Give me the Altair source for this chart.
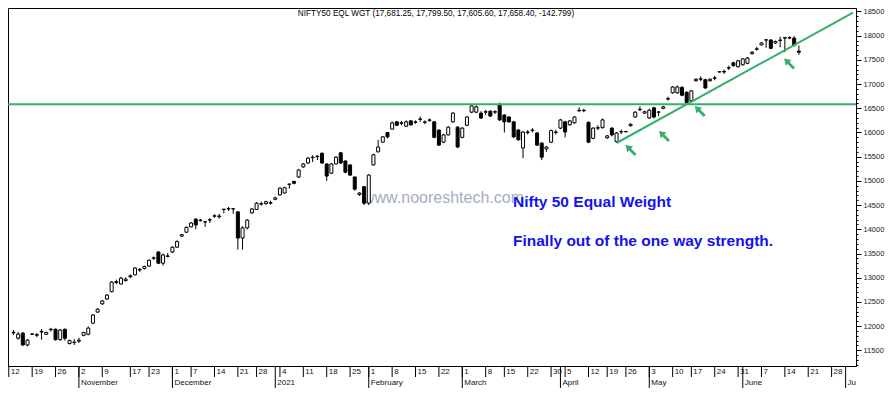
import altair as alt
import pandas as pd

# ---------------- data (trading-day index: 12 Oct 2020 = 0, 17 Jun 2021 = 169) ----------------
open_ = [11870, 11750, 11855, 11610, 11830, 11810, 11880, 11830, 11925, 11935,
         11720, 11935, 11640, 11660, 11690, 11810, 11830, 12060, 12290, 12460,
         12560, 12710, 12900, 12870, 12940, 13020, 13060, 13160, 13190, 13240,
         13400, 13530, 13300, 13440, 13530, 13630, 13860, 13940, 14050, 14210,
         14180, 14150, 14190, 14270, 14260, 14410, 14420, 14420, 14360, 13820,
         14030, 14340, 14410, 14520, 14530, 14540, 14620, 14710, 14750, 14930,
         14990, 15080, 15290, 15370, 15480, 15500, 15570, 15350, 15160, 15350,
         15580, 15410, 15330, 15080, 14720, 14880, 14540, 15330, 15600, 15800,
         16000, 16070, 16220, 16190, 16130, 16240, 16210, 16270, 16210, 16250,
         16220, 16050, 15800, 15950, 16220, 16110, 15900, 16150, 16420, 16420,
         16400, 16420, 16440, 16420, 16570, 16360, 16320, 16220, 16050, 15680,
         16000, 16040, 15990, 15780, 15660, 15800, 16000, 16090, 16220, 16160,
         16200, 16450, 16450, 16210, 15880, 16090, 16100, 15890, 16090, 15810,
         16010, 16015, 16140, 16320, 16470, 16400, 16300, 16510, 16420, 16500,
         16690, 16820, 16820, 16930, 16830, 16660, 17070, 17100, 17090, 17070,
         17120, 17250, 17250, 17330, 17440, 17360, 17400, 17430, 17630, 17720,
         17810, 17910, 17910, 17850, 17900, 17950, 17950, 17950, 17681.25]
high = [11920, 11880, 11880, 11730, 11850, 11860, 11940, 11885, 11965, 11950,
        11940, 11950, 11720, 11730, 11760, 11880, 11990, 12250, 12370, 12540,
        12660, 12930, 12960, 13020, 13010, 13070, 13220, 13200, 13250, 13380,
        13440, 13550, 13500, 13510, 13650, 13770, 13900, 14060, 14150, 14230,
        14210, 14160, 14230, 14310, 14320, 14420, 14460, 14430, 14380, 14060,
        14210, 14440, 14560, 14570, 14590, 14590, 14670, 14870, 14880, 14940,
        15000, 15250, 15370, 15490, 15530, 15530, 15590, 15360, 15370, 15510,
        15600, 15430, 15340, 15090, 14770, 14890, 15140, 15560, 15850, 15930,
        16010, 16230, 16240, 16240, 16250, 16260, 16250, 16330, 16250, 16290,
        16240, 16060, 15970, 16130, 16420, 16130, 16110, 16340, 16570, 16560,
        16440, 16470, 16460, 16460, 16620, 16380, 16340, 16240, 16070, 16030,
        16050, 16090, 16010, 15800, 15720, 16060, 16060, 16280, 16240, 16260,
        16340, 16520, 16490, 16230, 16110, 16150, 16290, 15950, 16110, 16010,
        16060, 16030, 16190, 16440, 16540, 16450, 16490, 16530, 16430, 16550,
        16740, 16960, 16970, 16960, 16850, 16880, 17120, 17160, 17110, 17120,
        17170, 17265, 17300, 17380, 17460, 17500, 17540, 17560, 17680, 17770,
        17870, 17920, 17930, 17900, 17980, 17970, 17990, 17990, 17799.5]
low = [11820, 11720, 11590, 11580, 11820, 11770, 11720, 11820, 11890, 11700,
       11700, 11700, 11620, 11610, 11650, 11790, 11810, 12050, 12270, 12440,
       12540, 12700, 12870, 12860, 12920, 12990, 13050, 13120, 13170, 13230,
       13370, 13280, 13250, 13420, 13510, 13620, 13840, 13930, 14040, 14000,
       14160, 14050, 14130, 14240, 14220, 14330, 14380, 14320, 13580, 13580,
       14000, 14320, 14400, 14490, 14510, 14510, 14600, 14700, 14740, 14840,
       14930, 15060, 15270, 15350, 15390, 15430, 15350, 15000, 15140, 15340,
       15350, 15160, 15100, 14800, 14690, 14500, 14500, 15320, 15590, 15790,
       15880, 16060, 16130, 16150, 16110, 16140, 16180, 16220, 16170, 16220,
       15880, 15720, 15780, 15940, 16200, 15680, 15880, 16130, 16400, 16400,
       16280, 16360, 16320, 16380, 16240, 16000, 16200, 15890, 15830, 15470,
       15960, 16000, 15720, 15430, 15600, 15780, 15960, 16070, 15900, 16140,
       16180, 16420, 16420, 15780, 15860, 16050, 16080, 15870, 15920, 15790,
       15970, 16005, 16120, 16310, 16440, 16380, 16280, 16290, 16340, 16480,
       16660, 16800, 16800, 16750, 16600, 16640, 17050, 17060, 16900, 17050,
       17080, 17240, 17210, 17290, 17360, 17340, 17380, 17410, 17610, 17690,
       17800, 17750, 17720, 17830, 17760, 17660, 17930, 17780, 17605.6]
close = [11860, 11835, 11610, 11710, 11840, 11825, 11890, 11870, 11935, 11720,
         11920, 11750, 11700, 11670, 11710, 11870, 11960, 12230, 12350, 12520,
         12640, 12910, 12920, 12990, 12970, 13040, 13200, 13170, 13230, 13360,
         13410, 13300, 13470, 13450, 13630, 13750, 13890, 14040, 14130, 14090,
         14190, 14155, 14200, 14280, 14275, 14415, 14430, 14425, 13820, 14030,
         14190, 14420, 14540, 14530, 14570, 14550, 14650, 14850, 14860, 14935,
         14950, 15225, 15350, 15470, 15490, 15510, 15370, 15100, 15350, 15490,
         15370, 15180, 15120, 14830, 14750, 14540, 15120, 15540, 15700, 15910,
         15910, 16200, 16150, 16200, 16220, 16160, 16220, 16280, 16220, 16260,
         15900, 15740, 15950, 16110, 16400, 15700, 16090, 16320, 16550, 16530,
         16300, 16430, 16340, 16430, 16260, 16220, 16220, 15910, 15850, 16010,
         16010, 16050, 15740, 15490, 15700, 16040, 16010, 16260, 16010, 16240,
         16320, 16460, 16460, 15800, 16090, 16100, 16260, 15930, 15950, 15990,
         16020, 16020, 16170, 16420, 16480, 16430, 16460, 16320, 16425, 16530,
         16700, 16940, 16940, 16770, 16620, 16860, 17100, 17110, 16920, 17100,
         17130, 17255, 17260, 17340, 17380, 17480, 17520, 17540, 17660, 17730,
         17850, 17915, 17740, 17880, 17910, 17960, 17960, 17801, 17658.4]
day = list(range(1, len(close) + 1))

day_tick_labels = ["12", "19", "26", "2", "9", "17", "23", "1", "7", "14", "21", "28",
                   "4", "11", "18", "25", "1", "8", "15", "22", "1", "8", "15", "22", "30",
                   "5", "12", "19", "26", "3", "10", "17", "24", "31", "7", "14", "21", "28"]
day_tick_index = [0, 5, 10, 15, 20, 26, 30, 35, 39, 44, 49, 53, 58, 63, 68, 73, 77, 82, 87, 92,
                  97, 102, 106, 111, 116, 119, 124, 128, 132, 137, 142, 146, 151, 156, 161, 166,
                  171, 176]
month_labels = ["November", "December", "2021", "February", "March", "April", "May", "June", "July"]
month_index = [15, 35, 57, 77, 97, 118, 137, 157, 179]

y_tick_values = list(range(11200, 18600, 100))

resistance = [16583]
trend_day = [130.0, 180.57]
trend_val = [15783, 18475]
arrow_day = [133.0, 140.15, 147.8, 166.9]
arrow_val = [15639, 15928, 16444, 17426]

title_text = "NIFTY50 EQL WGT (17,681.25, 17,799.50, 17,605.60, 17,658.40, -142.799)"
watermark_text = "www.nooreshtech.com"
note1 = "Nifty 50 Equal Weight"
note2 = "Finally out of the one way strength."

# ---------------- chart ----------------
FONT = "Liberation Sans"
GREEN = "#35b06b"
BLUE = "#1212ee"
W, H = 848, 358

cdf = pd.DataFrame({"day": day, "open": open_, "high": high, "low": low, "close": close})
xs = alt.Scale(domain=[0.9, 180.15], nice=False, zero=False, clamp=True)
ys = alt.Scale(domain=[11176, 18572], nice=False, zero=False)

yaxis = alt.Axis(orient="right", values=y_tick_values, format="d",
                 labelExpr="datum.value % 500 === 0 ? datum.label : ''",
                 tickSize={"condition": {"test": "datum.value % 500 === 0", "value": 5}, "value": 2},
                 labelOverlap=False, grid=False, title=None, domainColor="black",
                 tickColor="black", labelFont=FONT, labelFontSize=7.5, labelColor="#222222",
                 labelPadding=2)


def X(f):
    return alt.X(f, type="quantitative", scale=xs, axis=None, title=None)


def Y(f):
    return alt.Y(f, type="quantitative", scale=ys, axis=yaxis, title=None)


def one(t):
    return pd.DataFrame({"t": [t]})


watermark = alt.Chart(one(watermark_text)).mark_text(
    font=FONT, fontSize=16, align="left", baseline="alphabetic", color="#a3aebf"
).encode(x=alt.value(355), y=alt.value(195), text="t:N")

wicks = alt.Chart(cdf).mark_rule(color="black", strokeWidth=1).encode(
    x=X("day"), y=Y("low"), y2="high")

bodies = alt.Chart(cdf).mark_bar(size=3, stroke="black", strokeWidth=1).encode(
    x=X("day"), y=Y("open"), y2="close",
    fill=alt.condition("datum.close < datum.open", alt.value("black"), alt.value("white")))

hline = alt.Chart(pd.DataFrame({"v": resistance})).mark_rule(color=GREEN, strokeWidth=2).encode(
    y=Y("v"))

trend = alt.Chart(pd.DataFrame({"day": trend_day, "val": trend_val})).mark_line(
    color=GREEN, strokeWidth=2, clip=True).encode(x=X("day"), y=Y("val"))

arrow_path = "M0,-1L0.58,-0.1L0.2,-0.1L0.2,1L-0.2,1L-0.2,-0.1L-0.58,-0.1Z"
arrows = alt.Chart(pd.DataFrame({"day": arrow_day, "val": arrow_val})).mark_point(
    shape=arrow_path, filled=True, size=196, angle=315, color=GREEN, opacity=1
).encode(x=X("day"), y=Y("val"))

title = alt.Chart(one(title_text)).mark_text(
    font=FONT, fontSize=8.2, align="center", baseline="top", color="black"
).encode(x=alt.value(428), y=alt.value(1.5), text="t:N")

t1 = alt.Chart(one(note1)).mark_text(
    font=FONT, fontSize=15.5, fontWeight="bold", align="left", baseline="alphabetic", color=BLUE
).encode(x=alt.value(505), y=alt.value(198.5), text="t:N")
t2 = alt.Chart(one(note2)).mark_text(
    font=FONT, fontSize=15.5, fontWeight="bold", align="left", baseline="alphabetic", color=BLUE
).encode(x=alt.value(505), y=alt.value(238), text="t:N")

ddf = pd.DataFrame({"idx": day_tick_index, "lab": day_tick_labels})
mdf = pd.DataFrame({"idx": month_index, "lab": month_labels, "n": list(range(len(month_labels)))})
last_m = len(month_labels) - 1

day_seps = alt.Chart(ddf).mark_rule(color="black", strokeWidth=1).encode(
    x=X("idx"), y=alt.value(H), y2=alt.value(H + 11))
day_text = alt.Chart(ddf).mark_text(
    font=FONT, fontSize=8, align="left", baseline="middle", dx=2, color="#111111"
).encode(x=X("idx"), y=alt.value(H + 5.5), text="lab:N")
month_seps = alt.Chart(mdf).mark_rule(color="black", strokeWidth=1).encode(
    x=X("idx"), y=alt.value(H), y2=alt.value(H + 22))
month_text = alt.Chart(mdf).transform_filter(f"datum.n < {last_m}").mark_text(
    font=FONT, fontSize=8, align="left", baseline="middle", dx=2, color="#111111"
).encode(x=X("idx"), y=alt.value(H + 16.5), text="lab:N")
month_last = alt.Chart(mdf).transform_filter(f"datum.n == {last_m}").mark_text(
    font=FONT, fontSize=8, align="left", baseline="middle", dx=2, color="#111111",
    limit=11, ellipsis=" "
).encode(x=X("idx"), y=alt.value(H + 16.5), text="lab:N")

chart = alt.layer(
    watermark, wicks, bodies, hline, trend, arrows, title, t1, t2,
    day_seps, day_text, month_seps, month_text, month_last
).properties(
    width=W, height=H,
    autosize=alt.AutoSizeParams(type="none"),
    padding={"left": 0, "top": 0, "right": 31, "bottom": 22},
    background="white",
).configure_view(stroke="black", strokeWidth=1)

chart.save("out.html", embed_options={"renderer": "svg", "actions": False})
